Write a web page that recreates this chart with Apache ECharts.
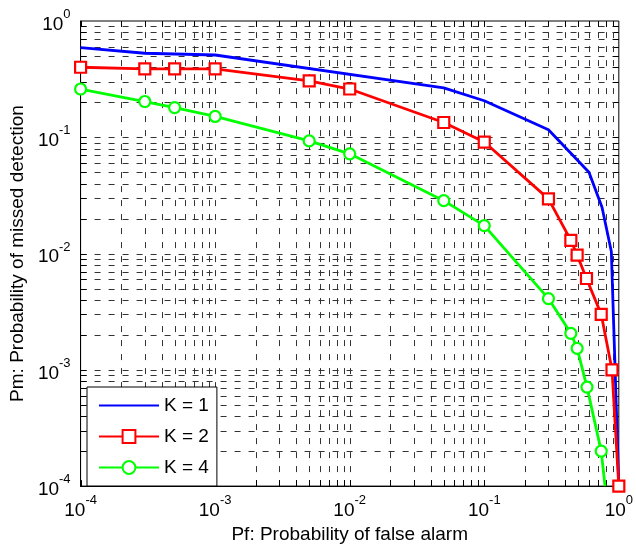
<!DOCTYPE html>
<html>
<head>
<meta charset="utf-8">
<script src="https://cdn.jsdelivr.net/npm/echarts@6/dist/echarts.min.js"></script>
<style>
  html, body { margin: 0; padding: 0; background: #fff; }
  #chart { width: 636px; height: 549px; }
</style>
</head>
<body>
<div id="chart"></div>
<script>
// Probability of false alarm (x) and missed detection (y) per K
const pfK1 = [1e-4, 3e-4, 1e-3, 5e-2, 0.1, 0.3, 0.6, 0.75, 0.88, 1];
const pmK1 = [0.59, 0.528, 0.51, 0.266, 0.206, 0.116, 0.05, 0.025, 0.0104, 1e-4];

const pfK2 = [1e-4, 3e-4, 5e-4, 1e-3, 5e-3, 1e-2, 5e-2, 0.1, 0.3, 0.44, 0.49, 0.575, 0.74, 0.89, 1];
const pmK2 = [0.40, 0.387, 0.387, 0.387, 0.305, 0.26, 0.134, 0.091, 0.0295, 0.013, 0.0097, 0.0061, 0.003, 0.001, 1e-4];

const pfK4 = [1e-4, 3e-4, 5e-4, 1e-3, 5e-3, 1e-2, 5e-2, 0.1, 0.3, 0.44, 0.49, 0.58, 0.74, 0.79];
const pmK4 = [0.26, 0.203, 0.18, 0.151, 0.093, 0.072, 0.0285, 0.0174, 0.0041, 0.00206, 0.00153, 0.00071, 0.0002, 1e-4];

const seriesNames = ['K = 1', 'K = 2', 'K = 4'];
const decadeExponents = [-4, -3, -2, -1];   // decades spanned by both axes
const axisMin = 1e-4;
const axisMax = 1;

const FONT = '"Liberation Sans", Arial, Helvetica, sans-serif';
const TICK_LEN = 6;

function pairs(xs, ys) {
  return xs.map((x, i) => [x, ys[i]]);
}

// Grid/tick positions: 1..9 within every decade (skipping the box edges)
const gridItems = [];
decadeExponents.forEach(e => {
  for (let m = 1; m <= 9; m++) {
    const v = m * Math.pow(10, e);
    const edge = (e === -4 && m === 1);
    gridItems.push([v, 0.01, 0, edge ? 1 : 0]); // vertical line
    gridItems.push([0.01, v, 1, edge ? 1 : 0]); // horizontal line
  }
});

function renderGrid(params, api) {
  const cs = params.coordSys;
  const left = cs.x, top = cs.y, right = cs.x + cs.width, bottom = cs.y + cs.height;
  const vertical = api.value(2) === 0;
  const onEdge = api.value(3) === 1;
  const p = api.coord([api.value(0), api.value(1)]);
  const dash = { stroke: '#333', lineWidth: 1, lineDash: [6, 8], fill: null };
  const tick = { stroke: '#000', lineWidth: 1, fill: null };
  const children = [];
  if (vertical) {
    const x = Math.round(p[0]) + 0.5;
    if (!onEdge) {
      children.push({ type: 'line', shape: { x1: x, y1: bottom, x2: x, y2: top }, style: dash });
    }
    children.push({ type: 'line', shape: { x1: x, y1: bottom, x2: x, y2: bottom - TICK_LEN }, style: tick });
    children.push({ type: 'line', shape: { x1: x, y1: top, x2: x, y2: top + TICK_LEN }, style: tick });
  } else {
    const y = Math.round(p[1]) + 0.5;
    if (!onEdge) {
      children.push({ type: 'line', shape: { x1: left, y1: y, x2: right, y2: y }, style: dash });
    }
    children.push({ type: 'line', shape: { x1: left, y1: y, x2: left + TICK_LEN, y2: y }, style: tick });
    children.push({ type: 'line', shape: { x1: right, y1: y, x2: right - TICK_LEN, y2: y }, style: tick });
  }
  return { type: 'group', children: children, silent: true };
}

function powerLabel(v) {
  return '{b|10}{s|' + Math.round(Math.log10(v)) + '}';
}

const labelRich = {
  b: { fontSize: 19, fontFamily: FONT, color: '#000', verticalAlign: 'bottom', lineHeight: 26 },
  s: { fontSize: 13, fontFamily: FONT, color: '#000', verticalAlign: 'top', lineHeight: 14 }
};

const chart = echarts.init(document.getElementById('chart'), null, { renderer: 'canvas' });

const option = {
  animation: false,
  backgroundColor: '#fff',
  grid: {
    left: 78, top: 21, right: 14, bottom: 62,
    show: true, borderColor: '#000', borderWidth: 1, backgroundColor: '#fff'
  },
  xAxis: {
    type: 'log', logBase: 10, min: axisMin, max: axisMax,
    name: 'Pf: Probability of false alarm',
    nameLocation: 'middle', nameGap: 38,
    nameTextStyle: { fontSize: 19, fontFamily: FONT, color: '#000' },
    axisLine: { show: true, lineStyle: { color: '#000', width: 1 } },
    axisTick: { show: false },
    minorTick: { show: false },
    splitLine: { show: false },
    axisLabel: { formatter: powerLabel, rich: labelRich, margin: 8 }
  },
  yAxis: {
    type: 'log', logBase: 10, min: axisMin, max: axisMax,
    name: 'Pm: Probability of missed detection',
    nameLocation: 'middle', nameGap: 52,
    nameTextStyle: { fontSize: 19, fontFamily: FONT, color: '#000' },
    axisLine: { show: true, lineStyle: { color: '#000', width: 1 } },
    axisTick: { show: false },
    minorTick: { show: false },
    splitLine: { show: false },
    axisLabel: { formatter: powerLabel, rich: labelRich, margin: 10 }
  },
  legend: {
    data: [
      { name: seriesNames[0], itemStyle: { opacity: 0 } },
      seriesNames[1],
      seriesNames[2]
    ],
    orient: 'vertical',
    left: 87, top: 387,
    padding: [9, 8, 9, 11],
    itemWidth: 60, itemHeight: 16, itemGap: 12,
    backgroundColor: '#fff',
    borderColor: '#000', borderWidth: 1, borderRadius: 0,
    textStyle: { fontSize: 19, fontFamily: FONT, color: '#000' },
    selectedMode: false
  },
  series: [
    {
      type: 'custom',
      coordinateSystem: 'cartesian2d',
      renderItem: renderGrid,
      data: gridItems,
      encode: { x: 0, y: 1 },
      silent: true,
      z: 1
    },
    {
      name: seriesNames[0],
      type: 'line',
      data: pairs(pfK1, pmK1),
      symbol: 'none',
      clip: false,
      lineStyle: { color: '#0000ff', width: 2.8 },
      itemStyle: { color: '#0000ff' },
      z: 3
    },
    {
      name: seriesNames[1],
      type: 'line',
      data: pairs(pfK2, pmK2),
      symbol: 'rect',
      symbolSize: 11,
      showAllSymbol: true,
      clip: false,
      lineStyle: { color: '#ff0000', width: 2.8 },
      itemStyle: { color: '#fff', borderColor: '#ff0000', borderWidth: 2.2 },
      z: 4
    },
    {
      name: seriesNames[2],
      type: 'line',
      data: pairs(pfK4, pmK4).map((p, i, arr) =>
        i === arr.length - 1 ? { value: p, symbol: 'none' } : p),
      symbol: 'circle',
      symbolSize: 11,
      showAllSymbol: true,
      clip: false,
      lineStyle: { color: '#00ff00', width: 2.8 },
      itemStyle: { color: '#fff', borderColor: '#00ff00', borderWidth: 2.2 },
      z: 4
    }
  ]
};

chart.setOption(option);
</script>
</body>
</html>
